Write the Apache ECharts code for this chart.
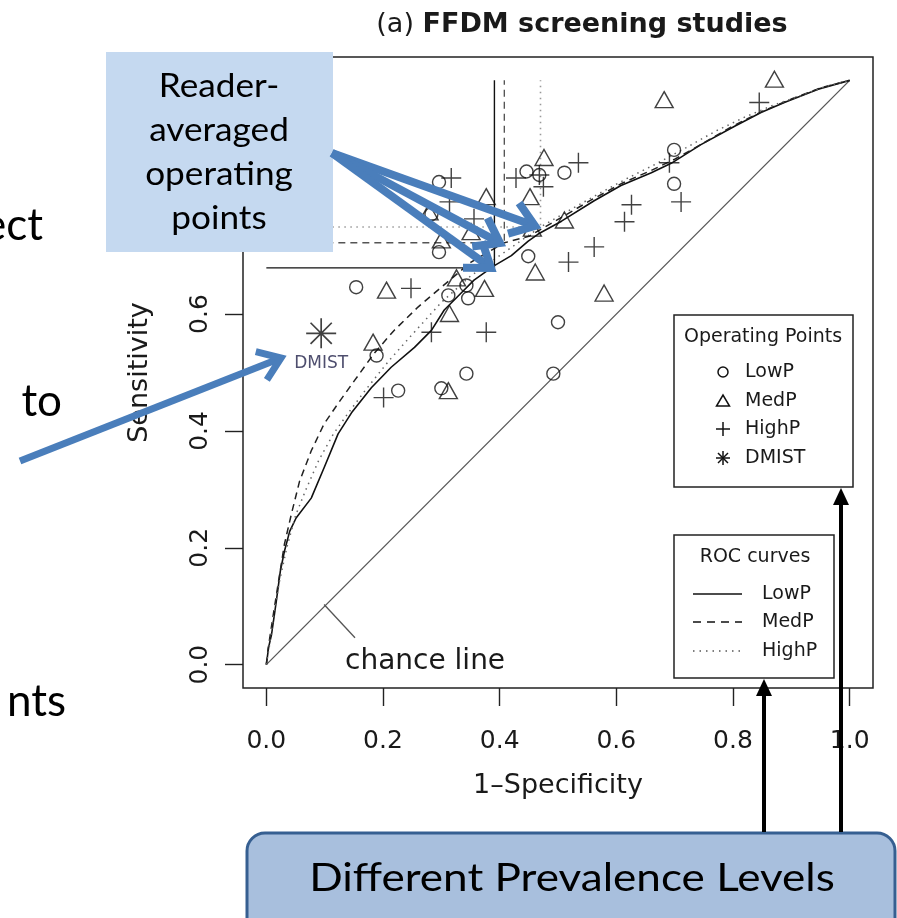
<!DOCTYPE html>
<html><head><meta charset="utf-8">
<script src="https://cdn.jsdelivr.net/npm/echarts@6/dist/echarts.min.js"></script>
<style>html,body{margin:0;padding:0;background:#fff}#c{width:897px;height:918px}</style>
</head><body><div id="c"></div><script>
// ---------- data ----------
const xTicks = [0, 0.2, 0.4, 0.6, 0.8, 1.0];
const yTicks = [0, 0.2, 0.4, 0.6, 0.8, 1.0];
const chanceLine = [[0, 0], [1, 1]];
const chanceLeader = [[0.099, 0.103], [0.152, 0.046]];
const rocLowP = [[0,0],[0.004,0.03],[0.009,0.052],[0.017,0.108],[0.024,0.16],[0.031,0.194],[0.04,0.228],[0.051,0.251],[0.077,0.285],[0.099,0.337],[0.123,0.395],[0.146,0.431],[0.18,0.474],[0.214,0.509],[0.254,0.543],[0.283,0.572],[0.305,0.607],[0.334,0.636],[0.356,0.658],[0.391,0.683],[0.42,0.7],[0.449,0.725],[0.466,0.737],[0.506,0.759],[0.562,0.794],[0.608,0.82],[0.66,0.842],[0.694,0.858],[0.745,0.89],[0.802,0.921],[0.848,0.945],[0.888,0.962],[0.946,0.985],[1,1]];
const rocMedP = [[0,0],[0.003,0.027],[0.012,0.086],[0.021,0.143],[0.031,0.206],[0.043,0.258],[0.057,0.314],[0.077,0.366],[0.099,0.412],[0.123,0.447],[0.151,0.486],[0.185,0.533],[0.219,0.572],[0.26,0.612],[0.3,0.646],[0.351,0.689],[0.408,0.722],[0.45,0.733],[0.5,0.762],[0.56,0.797],[0.61,0.824],[0.66,0.846],[0.7,0.865],[0.75,0.893],[0.8,0.922],[0.85,0.947],[0.9,0.968],[0.95,0.987],[1,1]];
const rocHighP = [[0,0],[0.005,0.03],[0.012,0.08],[0.022,0.14],[0.035,0.2],[0.05,0.255],[0.068,0.3],[0.09,0.35],[0.115,0.395],[0.14,0.43],[0.17,0.47],[0.21,0.52],[0.25,0.565],[0.3,0.62],[0.35,0.665],[0.4,0.7],[0.47,0.749],[0.52,0.778],[0.57,0.806],[0.62,0.833],[0.67,0.858],[0.72,0.885],[0.77,0.913],[0.82,0.937],[0.87,0.958],[0.92,0.975],[0.96,0.99],[1,1]];
const avgLowP = [0.391, 0.679];
const avgMedP = [0.408, 0.722];
const avgHighP = [0.47, 0.749];
const lowP = [[0.296,0.826],[0.283,0.771],[0.296,0.706],[0.154,0.646],[0.312,0.632],[0.343,0.649],[0.346,0.627],[0.446,0.844],[0.468,0.838],[0.511,0.842],[0.449,0.699],[0.5,0.586],[0.189,0.529],[0.226,0.469],[0.3,0.473],[0.343,0.498],[0.492,0.498],[0.699,0.881],[0.699,0.823]];
const medP = [[0.377,0.801],[0.476,0.868],[0.452,0.801],[0.511,0.761],[0.279,0.775],[0.351,0.741],[0.3,0.727],[0.461,0.672],[0.206,0.641],[0.326,0.662],[0.374,0.644],[0.314,0.601],[0.579,0.636],[0.183,0.552],[0.312,0.469],[0.682,0.967],[0.871,1.002],[0.456,0.747]];
const highP = [[0.317,0.833],[0.314,0.792],[0.356,0.763],[0.428,0.833],[0.468,0.838],[0.475,0.818],[0.535,0.859],[0.562,0.715],[0.518,0.689],[0.248,0.644],[0.283,0.569],[0.377,0.569],[0.201,0.457],[0.614,0.758],[0.626,0.787],[0.691,0.859],[0.711,0.792],[0.845,0.962]];
const dmist = [[0.094, 0.567]];
const opLegend = ['LowP', 'MedP', 'HighP', 'DMIST'];
const rocLegend = ['LowP', 'MedP', 'HighP'];

// ---------- helpers ----------
const RF = 'DejaVu Sans';
const TXT = '#1a1a1a';
const BLUE = '#4a7ebb';
function crossHair(p) { return [[0, p[1]], [p[0], p[1]], [p[0], 1.0]]; }
function lineSeries(name, data, color, width, type) {
  return { name, type: 'line', data, showSymbol: false, symbol: 'none', silent: true, animation: false,
    lineStyle: { color, width, type }, z: 2 };
}
const PLUS = 'path://M10,0L10,20M0,10L20,10';
const STAR = 'path://M10,0L10,20M0,10L20,10M2.93,2.93L17.07,17.07M2.93,17.07L17.07,2.93';
function scatter(name, data, symbol, size) {
  return { name, type: 'scatter', data, symbol, symbolSize: size, silent: true, animation: false, z: 3,
    itemStyle: { color: 'rgba(0,0,0,0)', borderColor: '#111', borderWidth: 1.4 } };
}
function blueArrow(x1, y1, x2, y2, w, L) {
  const a = Math.atan2(y2 - y1, x2 - x1), g = 0.62;
  return [
    { type: 'line', z: 100, shape: { x1, y1, x2: x2 - 2 * Math.cos(a), y2: y2 - 2 * Math.sin(a) }, style: { stroke: BLUE, lineWidth: w } },
    { type: 'polyline', z: 100, shape: { points: [[x2 - L * Math.cos(a - g), y2 - L * Math.sin(a - g)], [x2, y2], [x2 - L * Math.cos(a + g), y2 - L * Math.sin(a + g)]] },
      style: { stroke: BLUE, lineWidth: w, fill: null, lineJoin: 'miter', miterLimit: 10 } }
  ];
}
function blackArrow(x, y1, y2) {
  return [
    { type: 'line', z: 100, shape: { x1: x, y1, x2: x, y2: y2 + 12 }, style: { stroke: '#000', lineWidth: 4 } },
    { type: 'polygon', z: 100, shape: { points: [[x - 8, y2 + 17], [x, y2], [x + 8, y2 + 17]] }, style: { fill: '#000' } }
  ];
}
function txt(text, x, y, font, align, extra) {
  return Object.assign({ type: 'text', x, y, z: 60, style: { text, font, fill: TXT, align: align || 'left', verticalAlign: 'middle' } }, extra || {});
}

const graphics = [];
// title
graphics.push({ type: 'text', x: 582, y: 25, z: 60, style: { text: '{n|(a) }{b|FFDM screening studies}', align: 'center', verticalAlign: 'middle',
  rich: { n: { font: '27px "DejaVu Sans"', fill: TXT }, b: { font: 'bold 27px "DejaVu Sans"', fill: TXT } } } });
// chance line label
graphics.push(txt('chance line', 345, 662, '28px "DejaVu Sans"', 'left'));
// Operating points legend
graphics.push({ type: 'rect', z: 50, shape: { x: 674, y: 315, width: 179, height: 172 }, style: { fill: '#fff', stroke: '#222', lineWidth: 1.5 } });
graphics.push(txt('Operating Points', 763, 337, '19px "DejaVu Sans"', 'center'));
const opY = [372, 401, 429, 458];
opLegend.forEach((t, i) => graphics.push(txt(t, 745, opY[i], '19px "DejaVu Sans"', 'left')));
graphics.push({ type: 'circle', z: 60, shape: { cx: 723, cy: 372, r: 5 }, style: { fill: null, stroke: '#111', lineWidth: 1.5 } });
graphics.push({ type: 'polygon', z: 60, shape: { points: [[716.5, 406], [729.5, 406], [723, 395]] }, style: { fill: null, stroke: '#111', lineWidth: 1.5 } });
graphics.push({ type: 'polyline', z: 60, shape: { points: [[716, 429], [730, 429]] }, style: { stroke: '#111', lineWidth: 1.5 } });
graphics.push({ type: 'polyline', z: 60, shape: { points: [[723, 422], [723, 436]] }, style: { stroke: '#111', lineWidth: 1.5 } });
[[0, 7], [7, 0], [5, 5], [5, -5]].forEach(d => graphics.push({ type: 'line', z: 60, shape: { x1: 723 - d[0], y1: 458 - d[1], x2: 723 + d[0], y2: 458 + d[1] }, style: { stroke: '#111', lineWidth: 1.5 } }));
// ROC legend
graphics.push({ type: 'rect', z: 50, shape: { x: 674, y: 535, width: 160, height: 143 }, style: { fill: '#fff', stroke: '#222', lineWidth: 1.5 } });
graphics.push(txt('ROC curves', 755, 557, '19px "DejaVu Sans"', 'center'));
const rocY = [594, 622, 651];
const rocDash = [null, [8, 6], [1.5, 5]];
rocLegend.forEach((t, i) => {
  graphics.push(txt(t, 762, rocY[i], '19px "DejaVu Sans"', 'left'));
  graphics.push({ type: 'line', z: 60, shape: { x1: 693, y1: rocY[i], x2: 742, y2: rocY[i] }, style: { stroke: i === 2 ? '#555' : '#111', lineWidth: 1.5, lineDash: rocDash[i] } });
});
// slide fragments
graphics.push({ type: 'text', x: 43, y: 226, z: 60, style: { text: 'ect', font: '44px Lato', fill: '#000', align: 'right', verticalAlign: 'middle' } });
graphics.push({ type: 'text', x: 62, y: 402, z: 60, style: { text: 'to', font: '44px Lato', fill: '#000', align: 'right', verticalAlign: 'middle' } });
graphics.push({ type: 'text', x: 66, y: 702, z: 60, style: { text: 'nts', font: '44px Lato', fill: '#000', align: 'right', verticalAlign: 'middle' } });
// reader-averaged box
graphics.push({ type: 'rect', z: 90, shape: { x: 106, y: 52, width: 227, height: 200 }, style: { fill: '#c5d9f0' } });
['Reader-', 'averaged', 'operating', 'points'].forEach((t, i) => graphics.push({ type: 'text', x: 219, y: 87 + i * 44, z: 95, scaleX: 1.1,
  style: { text: t, font: '32px Lato', fill: '#000', align: 'center', verticalAlign: 'middle' } }));
// blue arrows
graphics.push(...blueArrow(332, 153, 535, 226, 8, 28));
graphics.push(...blueArrow(332, 153, 500, 243, 8, 28));
graphics.push(...blueArrow(332, 153, 491, 268, 8, 28));
graphics.push(...blueArrow(20, 461, 281, 358, 7, 26));
// prevalence box + arrows
graphics.push({ type: 'rect', z: 90, shape: { x: 247, y: 833, width: 648, height: 110, r: 18 }, style: { fill: '#a8bfdd', stroke: '#365f91', lineWidth: 3 } });
graphics.push({ type: 'text', x: 572, y: 879, z: 95, scaleX: 1.16, style: { text: 'Different Prevalence Levels', font: '38px Lato', fill: '#000', align: 'center', verticalAlign: 'middle' } });
graphics.push(...blackArrow(764, 832, 679));
graphics.push(...blackArrow(841, 832, 488));

const option = {
  animation: false,
  backgroundColor: '#fff',
  grid: { left: 243, top: 57, width: 630, height: 631, show: true, borderColor: '#222', borderWidth: 1.5, backgroundColor: 'rgba(0,0,0,0)' },
  xAxis: {
    type: 'value', min: -0.04, max: 1.04,
    axisLine: { show: false, onZero: false }, splitLine: { show: false },
    axisTick: { show: true, inside: false, length: 18, lineStyle: { color: '#222', width: 1.4 }, customValues: xTicks },
    axisLabel: { customValues: xTicks, formatter: v => v.toFixed(1), margin: 41, fontFamily: RF, fontSize: 25, color: TXT },
    name: '1–Specificity', nameLocation: 'middle', nameGap: 84, nameTextStyle: { fontFamily: RF, fontSize: 27, color: TXT }
  },
  yAxis: {
    type: 'value', min: -0.04, max: 1.04,
    axisLine: { show: false, onZero: false }, splitLine: { show: false },
    axisTick: { show: true, inside: false, length: 18, lineStyle: { color: '#222', width: 1.4 }, customValues: yTicks },
    axisLabel: { customValues: yTicks, formatter: v => v.toFixed(1), rotate: 90, margin: 30, fontFamily: RF, fontSize: 25, color: TXT },
    name: 'Sensitivity', nameLocation: 'middle', nameGap: 90, nameRotate: 90, nameTextStyle: { fontFamily: RF, fontSize: 27, color: TXT }
  },
  series: [
    lineSeries('chance', chanceLine, '#555', 1.3, 'solid'),
    lineSeries('leader', chanceLeader, '#555', 1.3, 'solid'),
    lineSeries('ROC LowP', rocLowP, '#111', 1.6, 'solid'),
    lineSeries('ROC MedP', rocMedP, '#222', 1.5, [7, 5]),
    lineSeries('ROC HighP', rocHighP, '#666', 1.5, [1.5, 4.5]),
    lineSeries('avg LowP', crossHair(avgLowP), '#111', 1.4, 'solid'),
    lineSeries('avg MedP', crossHair(avgMedP), '#555', 1.4, [7, 5]),
    lineSeries('avg HighP', crossHair(avgHighP), '#999', 1.6, [1.5, 4.5]),
    scatter('LowP', lowP, 'circle', 13),
    scatter('MedP', medP, 'triangle', [18, 16]),
    scatter('HighP', highP, PLUS, 20),
    Object.assign(scatter('DMIST', dmist, STAR, 30), {
      itemStyle: { color: 'rgba(0,0,0,0)', borderColor: '#111', borderWidth: 1.7 },
      label: { show: true, position: 'bottom', distance: 6, formatter: 'DMIST', fontFamily: RF, fontSize: 17, color: '#22224a' } })
  ],
  graphic: { elements: graphics }
};
const chart = echarts.init(document.getElementById('c'), null, { renderer: 'canvas' });
chart.setOption(option);
</script></body></html>
